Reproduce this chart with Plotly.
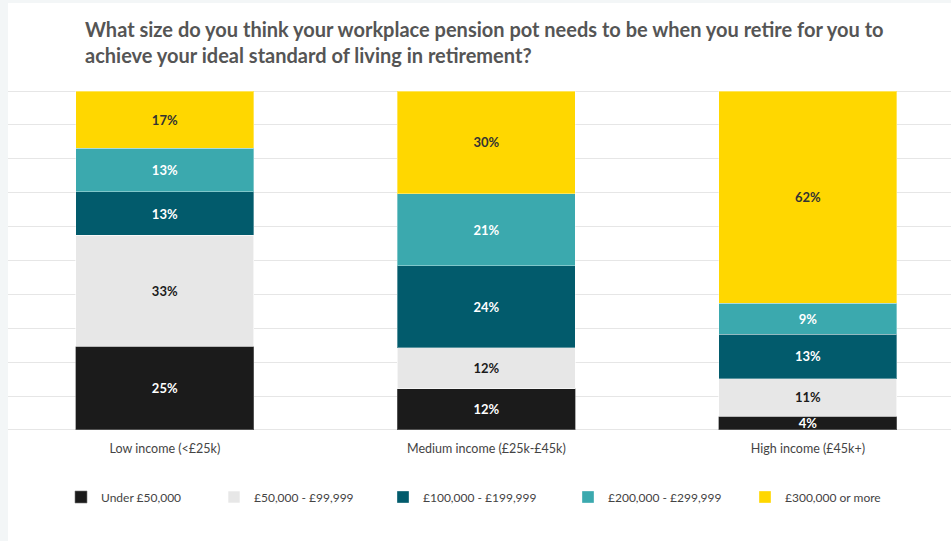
import plotly.graph_objects as go

# Income groups and pension pot bands
categories = ["Low income (<£25k)", "Medium income (£25k-£45k)", "High income (£45k+)"]
bands = ["Under £50,000", "£50,000 - £99,999", "£100,000 - £199,999",
         "£200,000 - £299,999", "£300,000 or more"]

# Share of respondents (%) per band, bottom to top of each stack
under_50k = [25, 12, 4]
from_50k_to_100k = [33, 12, 11]
from_100k_to_200k = [13, 24, 13]
from_200k_to_300k = [13, 21, 9]
over_300k = [17, 30, 62]

series = [under_50k, from_50k_to_100k, from_100k_to_200k, from_200k_to_300k, over_300k]
colors = ["#1b1b1b", "#e7e7e7", "#025b6c", "#3ba9ae", "#ffd700"]
label_colors = ["#ffffff", "#1b1b1b", "#ffffff", "#ffffff", "#333333"]
edge_colors = ["rgba(120,120,120,0.6)", "rgba(255,255,255,0.6)", "rgba(255,255,255,0.35)",
               "rgba(255,255,255,0.35)", "rgba(255,255,255,0.35)"]

# Legend entry positions (px from left), one legend per band
legend_x = [61, 214, 383, 568, 745]

W, H = 951, 541
FONT = "Lato"

fig = go.Figure()
for i, (name, vals) in enumerate(zip(bands, series)):
    lid = "legend" if i == 0 else f"legend{i + 1}"
    fig.add_trace(go.Bar(
        x=categories, y=vals, name=name,
        marker=dict(color=colors[i], line=dict(color=edge_colors[i], width=1)),
        text=vals, texttemplate="%{text}%",
        textposition="inside", insidetextanchor="middle",
        textfont=dict(family=FONT, size=13, color=label_colors[i], weight="bold"),
        constraintext="none",
        hoverinfo="skip",
        legend=lid,
    ))

layout_legends = {}
for i, lx in enumerate(legend_x):
    lid = "legend" if i == 0 else f"legend{i + 1}"
    layout_legends[lid] = dict(
        x=lx / W, xref="container", xanchor="left",
        y=1 - 497 / H, yref="container", yanchor="middle",
        orientation="h", bgcolor="rgba(0,0,0,0)",
        font=dict(family=FONT, size=12, color="#444444"),
    )

# plot area: x 8..951, y 90..431
pl, pt, pb = 8, 90, 431
fig.update_layout(
    width=W, height=H,
    margin=dict(l=pl, r=0, t=pt, b=H - pb, pad=0),
    paper_bgcolor="#f3f6f7", plot_bgcolor="#ffffff",
    barmode="stack", barnorm="percent", bargap=0.446,
    showlegend=True,
    title=dict(
        text="What size do you think your workplace pension pot needs to be when you retire for you to<br>achieve your ideal standard of living in retirement?",
        x=85 / W, xanchor="left", xref="container",
        y=1 - 37 / H, yanchor="top", yref="container",
        font=dict(family=FONT, size=20, color="#555555", weight="bold"),
    ),
    xaxis=dict(
        range=[-0.488, 2.445], showgrid=False, zeroline=False, showline=False,
        ticks="", ticklabelstandoff=8,
        tickfont=dict(family=FONT, size=12.5, color="#444444"),
        fixedrange=True,
    ),
    yaxis=dict(
        range=[-0.3, 100.3], dtick=10, showgrid=True, gridcolor="#e6e6e6", gridwidth=1,
        zeroline=True, zerolinecolor="#e6e6e6", zerolinewidth=1,
        showline=False, showticklabels=False, ticks="",
        fixedrange=True,
    ),
    shapes=[dict(
        type="rect", xref="paper", yref="paper", layer="below",
        x0=0, x1=1.01,
        y0=(pb - H) / (pb - pt), y1=(pb - 3) / (pb - pt),
        fillcolor="#ffffff", line=dict(width=0),
    )],
    **layout_legends,
)

fig.write_html("out.html")
